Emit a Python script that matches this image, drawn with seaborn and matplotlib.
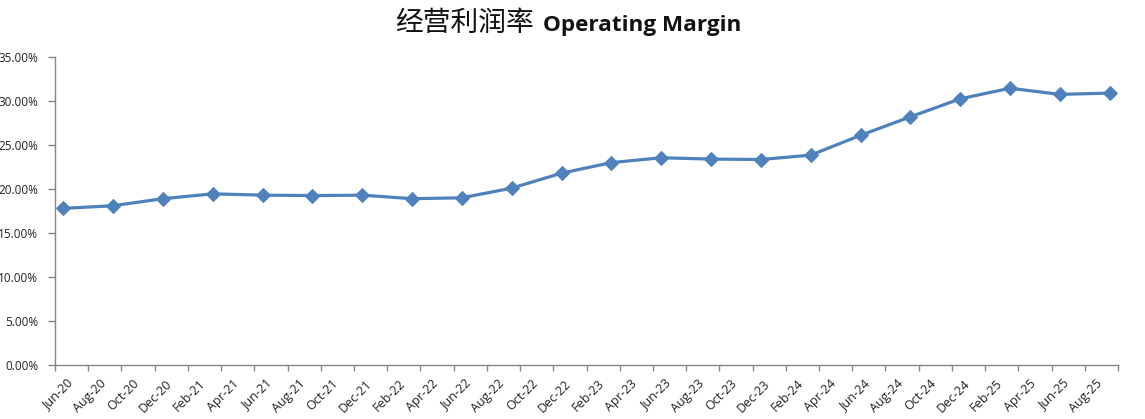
import numpy as np
import pandas as pd
import seaborn as sns
import matplotlib.pyplot as plt
import matplotlib.transforms as mtrans

# quarterly operating margin (%)
quarters = ["Jun-20", "Sep-20", "Dec-20", "Mar-21", "Jun-21", "Sep-21", "Dec-21", "Mar-22",
            "Jun-22", "Sep-22", "Dec-22", "Mar-23", "Jun-23", "Sep-23", "Dec-23", "Mar-24",
            "Jun-24", "Sep-24", "Dec-24", "Mar-25", "Jun-25", "Sep-25"]
margin = [17.8, 18.1, 18.9, 19.45, 19.3, 19.25, 19.3, 18.9,
          19.0, 20.1, 21.8, 23.0, 23.55, 23.4, 23.35, 23.85,
          26.1, 28.2, 30.25, 31.45, 30.75, 30.9]

# axis labels every two months
tick_labels = ["Jun-20", "Aug-20", "Oct-20", "Dec-20", "Feb-21", "Apr-21", "Jun-21", "Aug-21",
               "Oct-21", "Dec-21", "Feb-22", "Apr-22", "Jun-22", "Aug-22", "Oct-22", "Dec-22",
               "Feb-23", "Apr-23", "Jun-23", "Aug-23", "Oct-23", "Dec-23", "Feb-24", "Apr-24",
               "Jun-24", "Aug-24", "Oct-24", "Dec-24", "Feb-25", "Apr-25", "Jun-25", "Aug-25"]

d = pd.to_datetime(quarters, format="%b-%y")
df = pd.DataFrame({"month": (d.year - 2020) * 12 + d.month - 6, "margin": margin})

sns.set_style("white")
plt.rcParams['font.family'] = ['Open Sans', 'Noto Sans CJK SC', 'DejaVu Sans']

W, H = 1145, 419
fig = plt.figure(figsize=(W / 100, H / 100), dpi=100)
ax = fig.add_axes([55 / W, (H - 365) / H, (1118 - 55) / W, (365 - 57) / H])

sns.lineplot(data=df, x="month", y="margin", ax=ax, color="#4F81BD", linewidth=2.3,
             marker="D", markersize=7, markeredgecolor="#4F81BD")

ax.set_xlim(-0.5, 63.5)
ax.set_ylim(0, 35)
ax.set_yticks(np.arange(0, 36, 5))
ax.set_yticklabels([f"{v:.2f}%" for v in np.arange(0, 36, 5)])
ax.set_xlabel("")
ax.set_ylabel("")

# ticks at 2-month boundaries, labels centred in between
ax.set_xticks(np.arange(-0.5, 64, 2))
ax.set_xticklabels([])
ax.set_xticks(np.arange(0.5, 63, 2), minor=True)
ax.set_xticklabels(tick_labels, minor=True, rotation=45, ha="right", va="center",
                   rotation_mode="anchor")
ax.tick_params(axis="x", which="major", direction="out", length=4, width=1,
               color="#868686", bottom=True)
ax.tick_params(axis="x", which="minor", length=0, pad=12, labelsize=9, labelcolor="#222222",
               bottom=True)
ax.tick_params(axis="y", direction="out", length=5, width=1, color="#868686", left=True,
               pad=7, labelsize=8.5, labelcolor="#222222")
offset = mtrans.ScaledTranslation(-1 / 100, 0, fig.dpi_scale_trans)
for lbl in ax.get_xticklabels(minor=True):
    lbl.set_transform(lbl.get_transform() + offset)

for s in ["top", "right"]:
    ax.spines[s].set_visible(False)
for s in ["left", "bottom"]:
    ax.spines[s].set_color("#868686")
    ax.spines[s].set_linewidth(1)
ax.grid(False)

ty = 1 - 31 / H
fig.text(534 / W, ty, "经营利润率", ha="right", va="baseline", fontsize=20,
         family=["Noto Sans CJK SC", "DejaVu Sans"], color="#111111")
fig.text(543 / W, ty, "Operating Margin", ha="left", va="baseline", fontsize=16.2,
         fontweight="bold", family=["Open Sans", "DejaVu Sans"], color="#111111")

fig.savefig("out.png", dpi=100)
